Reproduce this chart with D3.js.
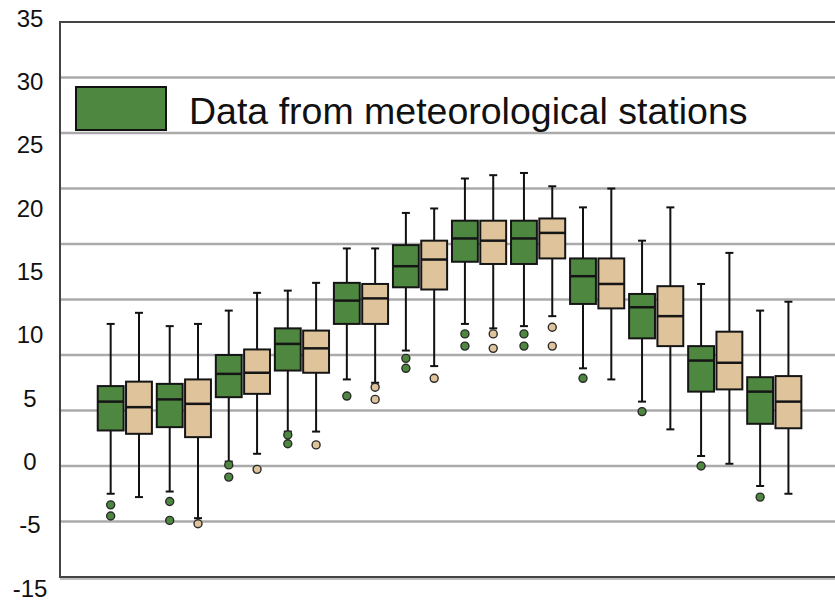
<!DOCTYPE html>
<html lang="en">
<head>
    <meta charset="UTF-8">
    <title>Monthly temperature box plot</title>
    <script src="https://cdnjs.cloudflare.com/ajax/libs/d3/7.8.5/d3.min.js"></script>
    <style>
        body { margin: 0; background: #fff; font-family: "Liberation Sans", Arial, sans-serif; }
        svg { display: block; }
    </style>
</head>
<body>
    <div id="chart"></div>

    <script>
    // months and the two series (green = stations, tan = second source)
    const months = ["Jan", "Feb", "Mar", "Apr", "May", "Jun", "Jul", "Aug", "Sep", "Oct", "Nov", "Dec"];
    const series = ["stations", "model"];
    const legendLabel = "Data from meteorological stations";

    // y tick labels, as printed on the picture
    const tickLabels = ["35", "30", "25", "20", "15", "10", "5", "0", "-5", "-15"];

    // box stats per month: [lowWhisker, q1, median, q3, highWhisker]
    const stationBoxes = [
        [-7.5, -1.8, 0.8, 2.2, 7.8],
        [-7.3, -1.5, 1.0, 2.4, 7.6],
        [-4.6, 1.2, 3.3, 5.0, 9.0],
        [-1.9, 3.6, 6.0, 7.4, 10.8],
        [2.8, 7.8, 9.9, 11.5, 14.6],
        [5.4, 11.1, 13.0, 14.9, 17.8],
        [7.8, 13.4, 15.5, 17.1, 20.9],
        [7.6, 13.2, 15.5, 17.1, 21.4],
        [3.8, 9.6, 12.1, 13.7, 18.3],
        [0.8, 6.5, 9.3, 10.5, 15.3],
        [-4.1, 1.7, 4.5, 5.8, 11.4],
        [-6.8, -1.2, 1.7, 3.0, 9.0]
    ];
    const modelBoxes = [
        [-7.8, -2.1, 0.3, 2.6, 8.8],
        [-9.7, -2.4, 0.6, 2.8, 7.8],
        [-3.9, 1.5, 3.4, 5.5, 10.6],
        [-1.9, 3.4, 5.6, 7.2, 11.5],
        [2.5, 7.8, 10.1, 11.4, 14.6],
        [4.0, 10.9, 13.6, 15.3, 18.2],
        [7.4, 13.2, 15.3, 17.1, 21.2],
        [8.5, 13.7, 16.0, 17.3, 20.2],
        [2.8, 9.2, 11.4, 13.7, 20.0],
        [-1.7, 5.8, 8.5, 11.2, 18.3],
        [-4.8, 1.9, 4.3, 7.1, 14.2],
        [-7.5, -1.6, 0.8, 3.1, 9.8]
    ];

    // outliers per month
    const stationOutliers = [
        [-8.5, -9.5], [-8.2, -9.9], [-4.9, -6.0], [-2.2, -3.0], [1.3], [4.7, 3.8],
        [6.9, 5.8], [6.9, 5.8], [2.9], [-0.1], [-5.0], [-7.8]
    ];
    const modelOutliers = [
        [], [-10.2], [-5.3], [-3.1], [2.1, 1.0], [2.9],
        [6.9, 5.6], [7.5, 5.8], [], [], [], []
    ];

    const colors = { stations: "#4e8840", model: "#dfc39b" };

    function drawChart() {
        const W = 835, H = 604;
        const plot = { left: 60, right: 835, top: 22, bottom: 577 };

        const svg = d3.select("#chart").append("svg")
            .attr("width", W)
            .attr("height", H);

        const y = d3.scaleLinear()
            .domain([-15, 35])
            .range([plot.bottom, plot.top]);

        const x = d3.scaleBand()
            .domain(months)
            .range([95.3, 803.8]);

        const xs = d3.scaleBand()
            .domain(series)
            .range([0, x.bandwidth()])
            .padding(0.086);

        const labelY = d3.scalePoint()
            .domain(tickLabels)
            .range([18, 588]);

        // horizontal grid lines
        svg.append("g")
            .selectAll("line")
            .data(d3.range(-10, 35, 5))
            .join("line")
            .attr("x1", plot.left)
            .attr("x2", plot.right)
            .attr("y1", d => y(d))
            .attr("y2", d => y(d))
            .attr("stroke", "#ababab")
            .attr("stroke-width", 2.5);

        // frame: left, top, bottom
        const frame = svg.append("g")
            .attr("stroke", "#444")
            .attr("stroke-width", 2)
            .attr("fill", "none");
        frame.append("path")
            .attr("d", `M${plot.right},${y(35)}H${plot.left}V${y(-15)}H${plot.right}`);
        frame.append("line")
            .attr("x1", plot.left).attr("x2", plot.right)
            .attr("y1", y(-15) + 2).attr("y2", y(-15) + 2)
            .attr("stroke", "#aaa")
            .attr("stroke-width", 1.5);

        // y labels
        svg.append("g")
            .selectAll("text")
            .data(tickLabels)
            .join("text")
            .attr("x", 30)
            .attr("y", d => labelY(d))
            .attr("dy", "0.36em")
            .attr("text-anchor", "middle")
            .attr("font-size", 24)
            .attr("fill", "#111")
            .text(d => d);

        // build box records
        const boxes = [];
        months.forEach((m, i) => {
            boxes.push({ month: m, key: "stations", s: stationBoxes[i], out: stationOutliers[i] });
            boxes.push({ month: m, key: "model", s: modelBoxes[i], out: modelOutliers[i] });
        });

        const bw = xs.bandwidth();
        const capW = 8;

        const g = svg.append("g")
            .selectAll("g")
            .data(boxes)
            .join("g")
            .attr("transform", d => `translate(${x(d.month) + xs(d.key)},0)`);

        // whiskers
        g.append("line")
            .attr("x1", bw / 2).attr("x2", bw / 2)
            .attr("y1", d => y(d.s[0]))
            .attr("y2", d => y(d.s[4]))
            .attr("stroke", "#111")
            .attr("stroke-width", 2);

        g.selectAll(".cap")
            .data(d => [d.s[0], d.s[4]])
            .join("line")
            .attr("class", "cap")
            .attr("x1", bw / 2 - capW / 2).attr("x2", bw / 2 + capW / 2)
            .attr("y1", d => y(d)).attr("y2", d => y(d))
            .attr("stroke", "#111")
            .attr("stroke-width", 2);

        // box body
        g.append("rect")
            .attr("x", 0)
            .attr("width", bw)
            .attr("y", d => y(d.s[3]))
            .attr("height", d => y(d.s[1]) - y(d.s[3]))
            .attr("fill", d => colors[d.key])
            .attr("stroke", "#151515")
            .attr("stroke-width", 2);

        // median
        g.append("line")
            .attr("x1", 0).attr("x2", bw)
            .attr("y1", d => y(d.s[2]))
            .attr("y2", d => y(d.s[2]))
            .attr("stroke", "#151515")
            .attr("stroke-width", 2.5);

        // outliers
        g.selectAll(".out")
            .data(d => d.out.map(v => ({ v, key: d.key })))
            .join("circle")
            .attr("class", "out")
            .attr("cx", bw / 2)
            .attr("cy", d => y(d.v))
            .attr("r", 4)
            .attr("fill", d => colors[d.key])
            .attr("stroke", "#2a2a2a")
            .attr("stroke-width", 1.4);

        // legend
        const legend = svg.append("g");
        legend.append("rect")
            .attr("x", 76)
            .attr("y", 87)
            .attr("width", 90)
            .attr("height", 43)
            .attr("fill", colors.stations)
            .attr("stroke", "#111")
            .attr("stroke-width", 2);
        legend.append("text")
            .attr("x", 189)
            .attr("y", 123.5)
            .attr("font-size", 37.5)
            .attr("fill", "#111")
            .text(legendLabel);
    }

    drawChart();
    </script>
</body>
</html>
